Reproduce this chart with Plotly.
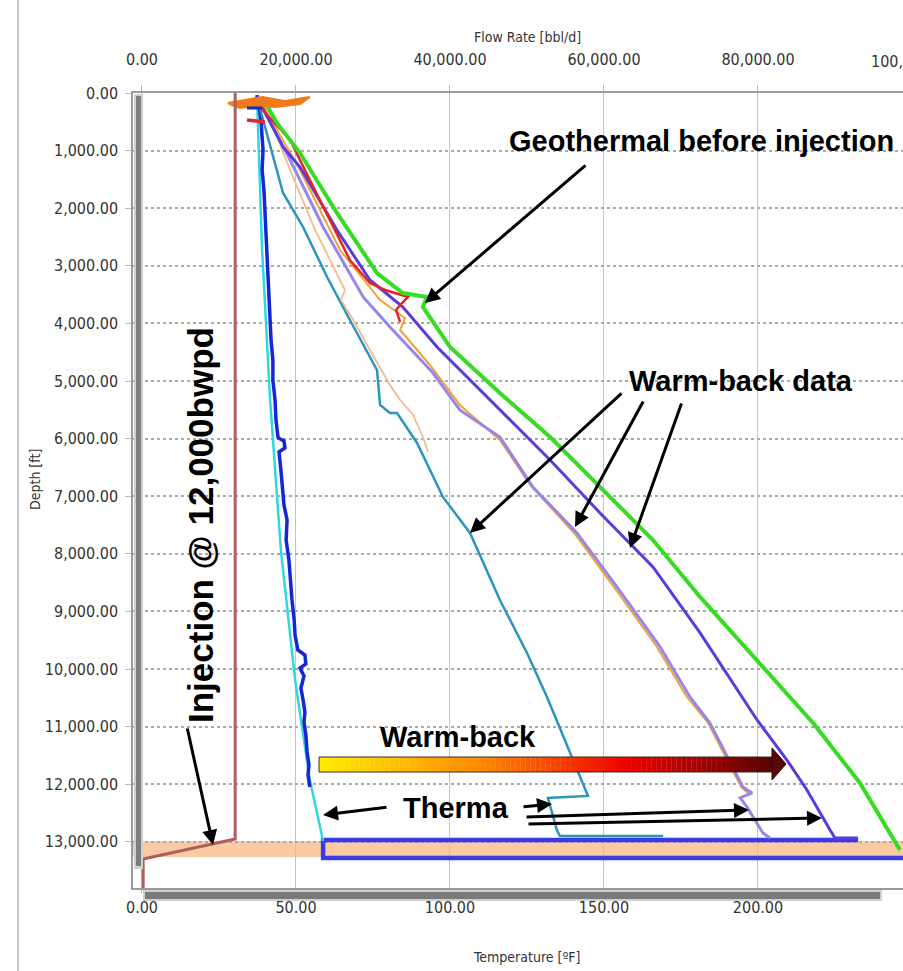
import plotly.graph_objects as go

# ---------------- data (temperature degF vs depth ft) ----------------
green_temp = [39.0, 43.8, 51.3, 63.3, 76.3, 84.7, 92.5, 91.2, 100.0, 116.2, 132.5, 149.7, 165.9, 181.2, 200.6, 217.9, 233.1, 246.1]
green_depth = [69, 521, 1042, 2083, 3125, 3472, 3542, 3715, 4410, 5208, 5972, 6892, 7760, 8749, 9895, 10937, 11978, 13141]

violet_temp = [37.3, 45.8, 51.3, 63.3, 74.0, 84.7, 95.8, 116.2, 132.5, 148.7, 165.9, 181.2, 199.7, 209.4, 215.9, 223.4, 225.0, 232.5]
violet_depth = [69, 937, 1285, 2378, 3246, 3715, 4410, 5503, 6371, 7291, 8229, 9374, 10885, 11580, 12100, 12795, 12934, 12934]

lavender_temp = [37.3, 48.1, 58.8, 71.8, 80.5, 94.5, 103.2, 116.2, 126.9, 141.2, 154.2, 168.2, 177.9, 184.4, 195.1, 198.1, 194.2, 196.4, 201.6, 203.9]
lavender_depth = [69, 1163, 2326, 3541, 4062, 4861, 5503, 5972, 6840, 7638, 8576, 9617, 10486, 10937, 12048, 12152, 12239, 12395, 12847, 12934]

orange_temp = [38.3, 51.3, 64.3, 77.3, 85.4, 83.8, 93.5, 103.2, 116.2, 126.0, 140.3, 153.2, 167.2, 176.9, 183.8, 194.5, 197.4]
orange_depth = [122, 1337, 2726, 3594, 3906, 4114, 4722, 5416, 6024, 6805, 7638, 8576, 9617, 10486, 10937, 12048, 12187]

peach_temp = [39.0, 48.1, 56.2, 62.7, 65.9, 64.6, 66.6, 68.2, 74.0, 80.5, 83.8, 88.0, 91.2, 92.9]
peach_depth = [122, 1337, 2378, 3072, 3420, 3594, 3767, 3906, 4462, 5069, 5330, 5590, 5972, 6232]

red_temp = [37.7, 48.1, 54.5, 61.0, 67.5, 74.0, 78.9, 86.4, 84.4, 82.5, 83.8]
red_depth = [208, 816, 1510, 2205, 2899, 3298, 3420, 3541, 3646, 3767, 3975]

teal_temp = [37.3, 41.6, 45.8, 52.3, 60.1, 67.5, 76.3, 77.3, 80.5, 82.8, 89.3, 97.7, 106.5, 116.2, 125.0, 131.5, 139.0, 144.8, 131.8, 134.7, 135.7, 169.2]
teal_depth = [69, 937, 1736, 2326, 3194, 3941, 4809, 5416, 5555, 5555, 6076, 7013, 7638, 8802, 9722, 10486, 11458, 12204, 12239, 12795, 12899, 12899]

cyan_temp = [37.3, 39.0, 41.6, 45.1, 49.7, 54.5, 58.8]
cyan_depth = [35, 2726, 5330, 7934, 10191, 11927, 12986]

dblue_temp = [37.3, 38.0, 38.6, 39.3, 39.0, 39.6, 39.9, 40.3, 40.6, 40.9, 41.2, 41.6, 41.9, 42.5, 42.5, 43.2,
              43.5, 44.2, 46.1, 46.4, 44.5, 45.1, 45.8, 46.1, 47.1, 46.8, 47.7, 48.1, 48.7, 49.4, 49.7, 50.6,
              52.9, 53.2, 51.3, 52.6, 51.6, 52.3, 52.9, 52.6, 53.2, 53.6, 54.2, 53.9, 54.5]
dblue_depth = [35, 208, 469, 990, 1337, 1684, 2031, 2465, 2812, 3246, 3594, 3941, 4288, 4635, 4982, 5330,
               5677, 5989, 6041, 6163, 6232, 6545, 6892, 7152, 7413, 7760, 8107, 8454, 8802, 9149, 9409, 9670,
               9756, 9913, 9982, 10121, 10329, 10537, 10746, 10920, 11145, 11440, 11666, 11840, 12048]

therma_temp = [232.5, 58.8, 58.8, 250.0]
therma_depth = [12969, 12969, 13281, 13281]

top_orange_temp = [27.9, 33.4, 39.0, 46.4, 54.5, 51.3, 43.2, 36.7, 31.8, 29.2, 27.9]
top_orange_depth = [174, 122, 69, 139, 69, 191, 243, 226, 260, 208, 174]
top_red_temp = [34.1, 39.9]
top_red_depth = [469, 503]
top_blue_temp = [34.1, 39.0]
top_blue_depth = [260, 260]

# injection rate (bbl/d) vs depth
inj_rate = [12100, 12100, 150, 150]
inj_depth = [0, 12950, 13298, 13802]

zone_top, zone_bottom = 12990, 13265

temp_ticks = [0, 50, 100, 150, 200]
rate_ticks = [0, 20000, 40000, 60000, 80000]
depth_ticks = list(range(0, 14000, 1000))

# ---------------- layout geometry (page pixels) ----------------
W, H = 903, 971
L, R, T, B = 133, 903, 93, 888
XMIN, XMAX = -2.92, 247.08
YMAX = 13802
RATE_PER_DEG = 400.0


def px_t(px):
    return XMIN + (px - L) / (R - L) * (XMAX - XMIN)


def py_d(py):
    return (py - T) / (B - T) * YMAX


def pap_x(px):
    return (px - L) / (R - L)


def pap_y(py):
    return (B - py) / (B - T)


fig = go.Figure()


def line(x, y, color, width, xaxis="x", fill=None):
    fig.add_trace(go.Scatter(x=x, y=y, mode="lines", xaxis=xaxis, yaxis="y",
                             line=dict(color=color, width=width), fill=fill,
                             fillcolor=color if fill else None,
                             hoverinfo="skip", showlegend=False))


line(therma_temp, therma_depth, "#3b3be6", 4.5)
line(inj_rate, inj_depth, "#b25d58", 3, xaxis="x2")
line(cyan_temp, cyan_depth, "#30d6e4", 2.5)
line(dblue_temp, dblue_depth, "#1426d6", 3.5)
line(teal_temp, teal_depth, "#2a95bd", 2.5)
line(peach_temp, peach_depth, "#f6b98c", 1.8)
line(orange_temp, orange_depth, "#f0a238", 2)
line(lavender_temp, lavender_depth, "#9686ea", 3)
line(violet_temp, violet_depth, "#5a3cdc", 3)
line(red_temp, red_depth, "#e82222", 2.5)
line(green_temp, green_depth, "#35dc22", 4)
line(top_orange_temp, top_orange_depth, "#f07a1a", 2, fill="toself")
line(top_red_temp, top_red_depth, "#e82222", 3.5)
line(top_blue_temp, top_blue_depth, "#1426d6", 3)

shapes = []
# perforation band
shapes.append(dict(type="rect", xref="paper", yref="y", x0=0, x1=1, y0=zone_top, y1=zone_bottom,
                   fillcolor="#f9caa4", line=dict(width=0), layer="below"))

# gradient "Warm-back" arrow
stops = [(0.0, (255, 236, 0)), (0.35, (255, 140, 0)), (0.68, (238, 0, 0)), (1.0, (88, 4, 4))]


def grad(f):
    for (f0, c0), (f1, c1) in zip(stops[:-1], stops[1:]):
        if f0 <= f <= f1:
            u = (f - f0) / (f1 - f0)
            return "rgb(%d,%d,%d)" % tuple(round(a + (b - a) * u) for a, b in zip(c0, c1))
    return "rgb(88,4,4)"


ax0, ax1 = px_t(319), px_t(772)
ay0, ay1 = py_d(757), py_d(772)
N = 90
for i in range(N):
    xa = ax0 + (ax1 - ax0) * i / N
    xb = ax0 + (ax1 - ax0) * (i + 1.05) / N
    shapes.append(dict(type="rect", xref="x", yref="y", x0=xa, x1=xb, y0=ay0, y1=ay1,
                       fillcolor=grad((i + 0.5) / N), line=dict(width=0), layer="above"))
shapes.append(dict(type="rect", xref="x", yref="y", x0=ax0, x1=ax1, y0=ay0, y1=ay1,
                   line=dict(color="#3a2a1a", width=1), layer="above"))
shapes.append(dict(type="path", xref="x", yref="y",
                   path="M %f,%f L %f,%f L %f,%f Z" % (ax1, py_d(748), px_t(786), py_d(764), ax1, py_d(780)),
                   fillcolor="rgb(88,8,8)", line=dict(color="#2a0a0a", width=1), layer="above"))

# window / scrollbar decorations
shapes.append(dict(type="line", xref="paper", yref="paper", x0=pap_x(18), x1=pap_x(18), y0=pap_y(971), y1=pap_y(0),
                   line=dict(color="#b4b4b4", width=1.5)))
shapes.append(dict(type="rect", xref="paper", yref="paper", x0=pap_x(134), x1=pap_x(143), y0=pap_y(869), y1=pap_y(94),
                   fillcolor="#cfcfcf", line=dict(width=0)))
shapes.append(dict(type="rect", xref="paper", yref="paper", x0=pap_x(136), x1=pap_x(141), y0=pap_y(866), y1=pap_y(96),
                   fillcolor="#7d7d7d", line=dict(width=0)))
shapes.append(dict(type="rect", xref="paper", yref="paper", x0=pap_x(143), x1=pap_x(882), y0=pap_y(901), y1=pap_y(890),
                   fillcolor="#d0d0d0", line=dict(width=0)))
shapes.append(dict(type="rect", xref="paper", yref="paper", x0=pap_x(145), x1=pap_x(880), y0=pap_y(899), y1=pap_y(892),
                   fillcolor="#7a7a7a", line=dict(width=0)))

FONT = "Liberation Sans, Arial, sans-serif"
AXF = "DejaVu Sans Condensed, DejaVu Sans, sans-serif"
ann = []


def arrow(tail, tip):
    ann.append(dict(x=px_t(tip[0]), y=py_d(tip[1]), ax=px_t(tail[0]), ay=py_d(tail[1]),
                    xref="x", yref="y", axref="x", ayref="y", text="", showarrow=True,
                    arrowhead=2, arrowsize=1, arrowwidth=3, arrowcolor="black"))


def label(text, px, py, size, angle=0, bold=True, color="black", family=FONT):
    ann.append(dict(x=pap_x(px), y=pap_y(py), xref="paper", yref="paper", text=("<b>%s</b>" % text) if bold else text,
                    showarrow=False, xanchor="center", yanchor="middle", textangle=angle,
                    font=dict(family=family, size=size, color=color)))


label("Geothermal before injection", 701, 141, 29)
arrow((587, 164), (425, 303))
label("Warm-back data", 741, 381, 29)
arrow((623, 392), (470, 533))
arrow((644, 400), (575, 527))
arrow((682, 402), (630, 548))
label("Warm-back", 458, 737, 29)
label("Therma", 456, 808, 29)
arrow((388, 807), (323, 815))
arrow((522, 807), (552, 804))
arrow((525, 817), (749, 810))
arrow((527, 824), (822, 818))
label("Injection @ 12,000bwpd", 200, 525, 35, angle=-90)
arrow((187, 727), (213, 845))

# axis titles and clipped tick label
label("Flow Rate [bbl/d]", 527, 37, 14, bold=False, color="#333", family=AXF)
label("Temperature [ºF]", 527, 957, 14, bold=False, color="#333", family=AXF)
label("Depth [ft]", 35, 480, 14, angle=-90, bold=False, color="#333", family=AXF)
label("100,000.00", 142 + 250 * 3.08, 61, 16, bold=False, color="#333", family=AXF)

fig.update_layout(
    width=W, height=H,
    margin=dict(l=L, r=W - R, t=T, b=H - B),
    paper_bgcolor="white", plot_bgcolor="white",
    shapes=shapes, annotations=ann, showlegend=False,
    xaxis=dict(range=[XMIN, XMAX], tickvals=temp_ticks, tickformat=",.2f",
               ticks="outside", ticklen=3, tickcolor="#bbb", ticklabelstandoff=1,
               tickfont=dict(family=AXF, size=16, color="#333"),
               showgrid=True, gridcolor="#c4c4c4", gridwidth=1, zeroline=False,
               showline=True, linecolor="#9a9a9a", linewidth=1.5, mirror=False),
    xaxis2=dict(range=[XMIN * RATE_PER_DEG, XMAX * RATE_PER_DEG], overlaying="x", side="top",
                tickvals=rate_ticks, tickformat=",.2f", ticks="outside", ticklen=6, tickcolor="#bbb",
                ticklabelstandoff=14, tickfont=dict(family=AXF, size=16, color="#333"),
                showgrid=False, zeroline=False, showline=True, linecolor="#9a9a9a", linewidth=1.5),
    yaxis=dict(range=[YMAX, 0], tickvals=depth_ticks, tickformat=",.2f",
               ticks="outside", ticklen=6, tickcolor="#bbb", ticklabelstandoff=4,
               tickfont=dict(family=AXF, size=16, color="#333"),
               showgrid=True, gridcolor="#a9a9a9", gridwidth=2, griddash="dot", zeroline=False,
               showline=True, linecolor="#9a9a9a", linewidth=1.5),
)

fig.write_html("out.html", config={"displayModeBar": False},
               post_script="document.body.style.margin='0';document.body.style.overflow='hidden';")
